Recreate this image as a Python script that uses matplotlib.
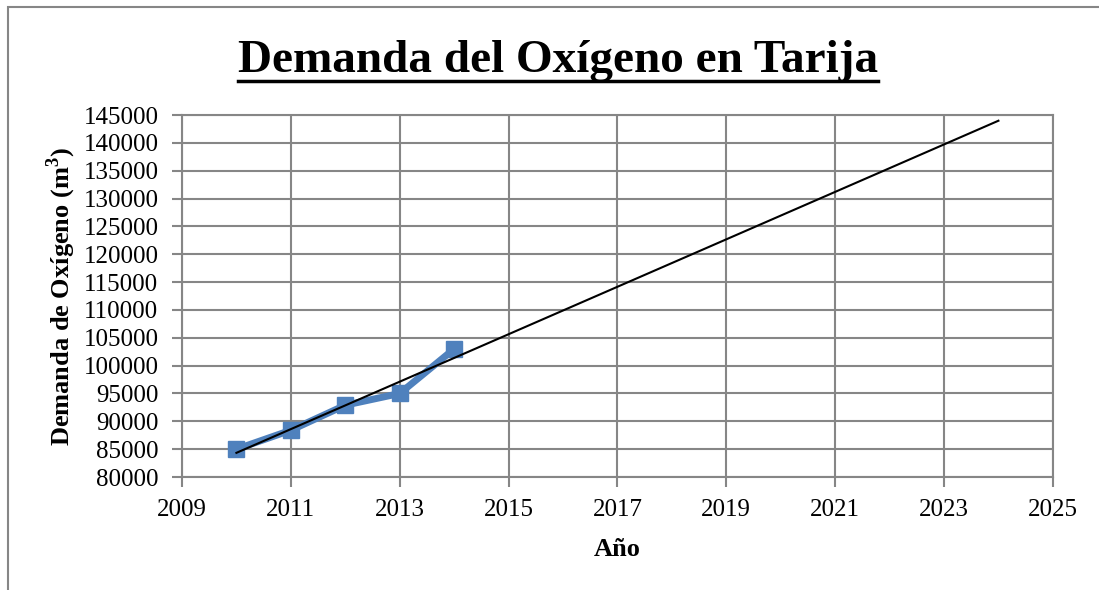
import numpy as np
import matplotlib
matplotlib.use("Agg")
import matplotlib.pyplot as plt
from matplotlib.lines import Line2D
from matplotlib.patches import Rectangle

# data
anios = [2010, 2011, 2012, 2013, 2014]
demanda = [85000, 88400, 92900, 95000, 103000]
anio_fin_tendencia = 2024

plt.rcParams['font.family'] = ['Liberation Serif', 'DejaVu Serif']

fig = plt.figure(figsize=(10.99, 5.90), dpi=100)
ax = fig.add_axes([0.1656, 0.1915, 0.958 - 0.1656, 0.805 - 0.1915])

gris = '#868686'
azul = '#4F81BD'

# serie
ax.plot(anios, demanda, color=azul, lw=5, marker='s', ms=12,
        solid_joinstyle='round', zorder=3)

# tendencia lineal
m, b = np.polyfit(anios, demanda, 1)
xt = np.array([anios[0], anio_fin_tendencia])
ax.plot(xt, m * xt + b, color='black', lw=1.5, zorder=4)

ax.set_xlim(2009, 2025)
ax.set_ylim(80000, 145000)
ax.set_xticks(range(2009, 2026, 2))
ax.set_yticks(range(80000, 145001, 5000))
ax.grid(True, color=gris, lw=1.5)
ax.set_axisbelow(True)
for s in ax.spines.values():
    s.set_color(gris)
    s.set_linewidth(1.5)
ax.tick_params(colors=gris, length=7, width=1.5, labelcolor='black',
               labelsize=18, direction='out')
ax.tick_params(axis='y', pad=10)
ax.tick_params(axis='x', pad=9)

ax.set_xlabel('Año', fontsize=19, fontweight='bold', labelpad=12)
ax.set_ylabel('Demanda de Oxígeno (m$^\\mathregular{3}$)', fontsize=19,
              fontweight='bold', labelpad=4)

# titulo subrayado
t = fig.text(0.508, 0.878, 'Demanda del Oxígeno en Tarija', fontsize=34,
             fontweight='bold', ha='center', va='baseline')
fig.canvas.draw()
bb = t.get_window_extent().transformed(fig.transFigure.inverted())
yline = 0.862
fig.add_artist(Line2D([bb.x0, bb.x1], [yline, yline], color='black', lw=2.5,
                      transform=fig.transFigure))

# borde del grafico
fig.add_artist(Rectangle((8 / 1099, -0.05), 1.2, 1 - 7 / 590 + 0.05,
                         transform=fig.transFigure, fill=False,
                         edgecolor=gris, lw=1.5))

fig.savefig('out.png', dpi=100)
